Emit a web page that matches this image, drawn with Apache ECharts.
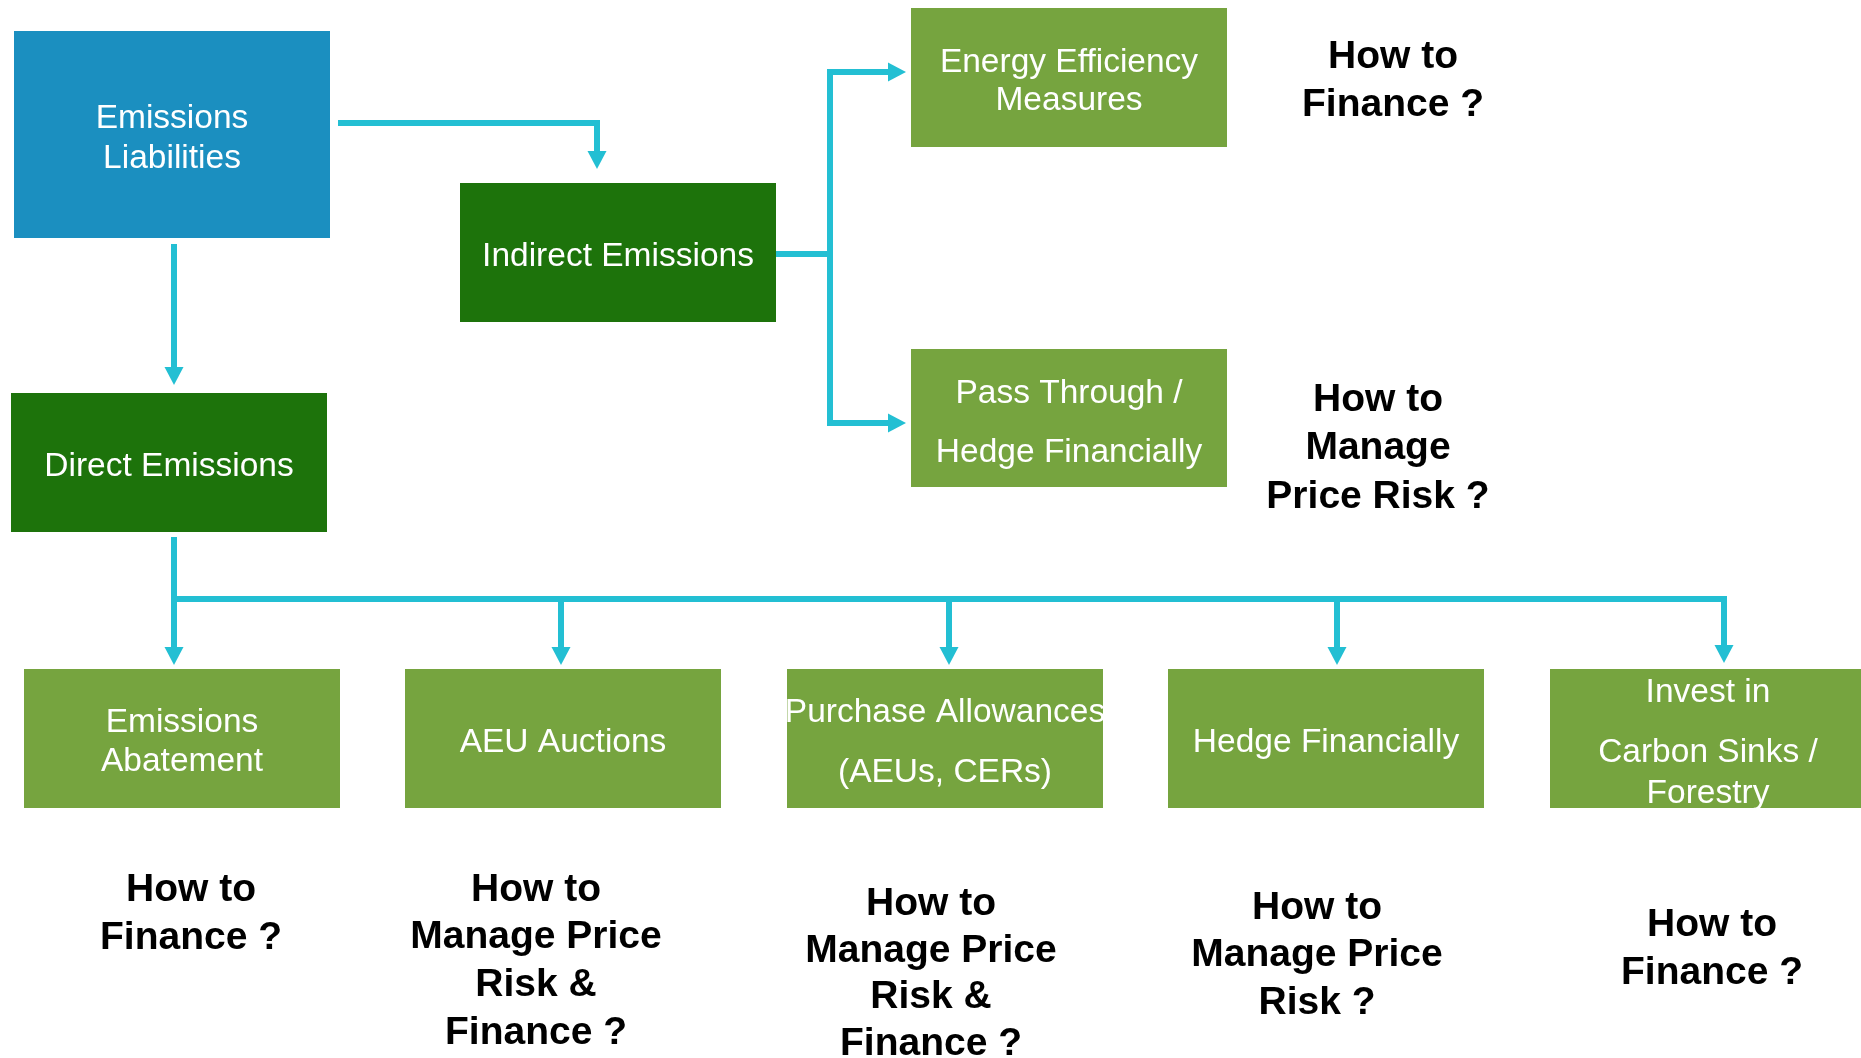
<!DOCTYPE html>
<html>
<head>
<meta charset="utf-8">
<script src="https://cdn.jsdelivr.net/npm/echarts@6/dist/echarts.min.js"></script>
<style>
html,body{margin:0;padding:0;background:#fff;}
#chart{width:1861px;height:1058px;}
</style>
</head>
<body>
<div id="chart"></div>
<script>
// ---- content ----
const nodeNames = [
  'Emissions\nLiabilities',
  'Indirect Emissions',
  'Direct Emissions',
  'Energy Efficiency\nMeasures',
  'Pass Through /\nHedge Financially',
  'Emissions\nAbatement',
  'AEU Auctions',
  'Purchase Allowances\n(AEUs, CERs)',
  'Hedge Financially',
  'Invest in\nCarbon Sinks /\nForestry'
];
const nodeKinds = ['root', 'branch', 'branch', 'leaf', 'leaf', 'leaf', 'leaf', 'leaf', 'leaf', 'leaf'];
const edgeSources = [0, 0, 1, 1, 2, 2, 2, 2, 2];
const edgeTargets = [1, 2, 3, 4, 5, 6, 7, 8, 9];
const questions = [
  'How to\nFinance ?',
  'How to\nManage\nPrice Risk ?',
  'How to\nFinance ?',
  'How to\nManage Price\nRisk &\nFinance ?',
  'How to\nManage Price\nRisk &\nFinance ?',
  'How to\nManage Price\nRisk ?',
  'How to\nFinance ?'
];

// ---- layout (diagram units = pixels of the 1861x1058 canvas) ----
const nodeBoxes = [
  [14, 31, 316, 207],
  [460, 183, 316, 139],
  [11, 393, 316, 139],
  [911, 8, 316, 139],
  [911, 349, 316, 138],
  [24, 669, 316, 139],
  [405, 669, 316, 139],
  [787, 669, 316, 139],
  [1168, 669, 316, 139],
  [1550, 669, 316, 139]
];
const nodeTextY = [
  [119, 159], [257], [467], [63, 101], [394, 453],
  [723, 762], [743], [713, 773], [743], [693, 753, 794]
];
const edgeRoutes = [
  [[338, 123], [597, 123], [597, 169]],
  [[174, 244], [174, 385]],
  [[776, 254], [830, 254], [830, 72], [906, 72]],
  [[776, 254], [830, 254], [830, 423], [906, 423]],
  [[174, 537], [174, 665]],
  [[174, 537], [174, 599], [561, 599], [561, 665]],
  [[174, 537], [174, 599], [949, 599], [949, 665]],
  [[174, 537], [174, 599], [1337, 599], [1337, 665]],
  [[174, 537], [174, 599], [1724, 599], [1724, 663]]
];
const questionPos = [
  [1393, 57], [1378, 400], [191, 890], [536, 890], [931, 904], [1317, 908], [1712, 925]
];
const questionLineHeights = [48, 48.5, 48, 47.7, 46.8, 47.5, 48];

// ---- styles ----
const kindColors = { root: '#1B8FC0', branch: '#1D730B', leaf: '#76A43F' };
const lineColor = '#23BFD3';
const FONT = '"Liberation Sans", Arial, sans-serif';

const W = 1861, H = 1058;
const chart = echarts.init(document.getElementById('chart'), null, { renderer: 'canvas' });

function boxRender(params, api) {
  const i = api.value(4);
  const x = api.value(0), y = api.value(1), w = api.value(2), h = api.value(3);
  const p0 = api.coord([x, y]);
  const p1 = api.coord([x + w, y + h]);
  const children = [{
    type: 'rect',
    shape: { x: Math.min(p0[0], p1[0]), y: Math.min(p0[1], p1[1]), width: Math.abs(p1[0] - p0[0]), height: Math.abs(p1[1] - p0[1]) },
    style: { fill: kindColors[nodeKinds[i]] }
  }];
  const lines = nodeNames[i].split('\n');
  lines.forEach((t, k) => {
    const c = api.coord([x + w / 2, nodeTextY[i][k]]);
    children.push({
      type: 'text', x: c[0], y: c[1],
      style: { text: t, fill: '#ffffff', fontSize: 33.5, fontFamily: FONT, align: 'center', verticalAlign: 'middle' }
    });
  });
  return { type: 'group', children };
}

function edgeRender(params, api) {
  const i = api.value(2);
  const pts = edgeRoutes[i].map(p => api.coord(p));
  const n = pts.length;
  const tip = pts[n - 1], prev = pts[n - 2];
  const dx = tip[0] - prev[0], dy = tip[1] - prev[1];
  const len = Math.sqrt(dx * dx + dy * dy) || 1;
  const ux = dx / len, uy = dy / len;
  const headL = 18, headW = 9.5;
  const base = [tip[0] - ux * headL, tip[1] - uy * headL];
  const linePts = pts.slice(0, n - 1).concat([[base[0] + ux * 1, base[1] + uy * 1]]);
  return {
    type: 'group',
    children: [
      { type: 'polyline', shape: { points: linePts }, style: { stroke: lineColor, lineWidth: 6, fill: null, lineJoin: 'miter', lineCap: 'butt' } },
      { type: 'polygon', shape: { points: [tip, [base[0] - uy * headW, base[1] + ux * headW], [base[0] + uy * headW, base[1] - ux * headW]] }, style: { fill: lineColor } }
    ]
  };
}

function questionRender(params, api) {
  const i = api.value(2);
  const lines = questions[i].split('\n');
  const children = lines.map((t, k) => {
    const c = api.coord([api.value(0), api.value(1) + k * questionLineHeights[i]]);
    return {
      type: 'text', x: c[0], y: c[1],
      style: { text: t, fill: '#000000', fontSize: 39, fontWeight: 'bold', fontFamily: FONT, align: 'center', verticalAlign: 'middle' }
    };
  });
  return { type: 'group', children };
}

chart.setOption({
  animation: false,
  backgroundColor: '#ffffff',
  grid: { left: 0, right: 0, top: 0, bottom: 0 },
  xAxis: { type: 'value', min: 0, max: W, show: false },
  yAxis: { type: 'value', min: 0, max: H, inverse: true, show: false },
  series: [
    {
      type: 'custom', name: 'edges', coordinateSystem: 'cartesian2d', clip: false,
      renderItem: edgeRender,
      encode: { x: 0, y: 1 },
      data: edgeRoutes.map((r, i) => [r[0][0], r[0][1], i, edgeSources[i], edgeTargets[i]]),
      z: 1
    },
    {
      type: 'custom', name: 'nodes', coordinateSystem: 'cartesian2d', clip: false,
      renderItem: boxRender,
      encode: { x: 0, y: 1 },
      data: nodeBoxes.map((b, i) => [b[0], b[1], b[2], b[3], i]),
      z: 2
    },
    {
      type: 'custom', name: 'questions', coordinateSystem: 'cartesian2d', clip: false,
      renderItem: questionRender,
      encode: { x: 0, y: 1 },
      data: questionPos.map((p, i) => [p[0], p[1], i]),
      z: 3
    }
  ]
});
</script>
</body>
</html>
